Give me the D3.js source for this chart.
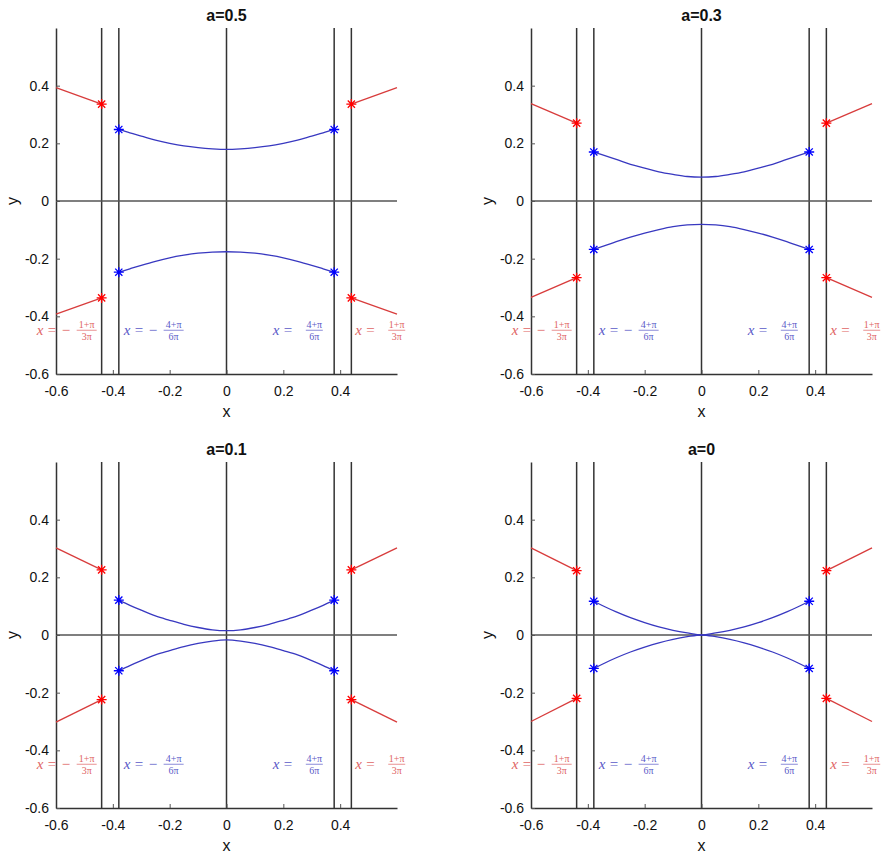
<!DOCTYPE html>
<html>
<head>
<meta charset="utf-8">
<script src="https://cdn.jsdelivr.net/npm/d3@7"></script>
<style>
  body { margin: 0; background: #fff; }
  svg { display: block; }
  text { font-family: "Liberation Sans", Arial, sans-serif; }
</style>
</head>
<body>
<script>
// ---- data ----
var titles = ["a=0.5", "a=0.3", "a=0.1", "a=0"];
var xTicks = [-0.6, -0.4, -0.2, 0, 0.2, 0.4];
var yTicks = [-0.6, -0.4, -0.2, 0, 0.2, 0.4];
var guideX = [-0.4394, -0.3789, 0, 0.3789, 0.4394];

var curveX = [-0.379, -0.34, -0.3, -0.25, -0.2, -0.15, -0.1, -0.05, 0, 0.05, 0.1, 0.15, 0.2, 0.25, 0.3, 0.34, 0.379];

var upper05 = [0.248, 0.236, 0.225, 0.211, 0.200, 0.191, 0.185, 0.181, 0.179, 0.181, 0.185, 0.191, 0.200, 0.211, 0.225, 0.236, 0.248];
var lower05 = [-0.247, -0.235, -0.223, -0.209, -0.197, -0.188, -0.181, -0.177, -0.176, -0.177, -0.181, -0.188, -0.197, -0.209, -0.223, -0.235, -0.247];
var upper03 = [0.170, 0.157, 0.144, 0.127, 0.114, 0.101, 0.092, 0.085, 0.083, 0.085, 0.092, 0.101, 0.114, 0.127, 0.144, 0.157, 0.170];
var lower03 = [-0.168, -0.155, -0.141, -0.125, -0.111, -0.099, -0.089, -0.083, -0.081, -0.083, -0.089, -0.099, -0.111, -0.125, -0.141, -0.155, -0.168];
var upper01 = [0.121, 0.103, 0.086, 0.066, 0.051, 0.037, 0.026, 0.018, 0.015, 0.018, 0.026, 0.037, 0.051, 0.066, 0.086, 0.103, 0.121];
var lower01 = [-0.124, -0.106, -0.089, -0.069, -0.054, -0.040, -0.029, -0.021, -0.017, -0.021, -0.029, -0.040, -0.054, -0.069, -0.089, -0.106, -0.124];
var upper00 = [0.117, 0.098, 0.080, 0.060, 0.043, 0.028, 0.016, 0.007, 0, 0.007, 0.016, 0.028, 0.043, 0.060, 0.080, 0.098, 0.117];
var lower00 = [-0.116, -0.097, -0.079, -0.059, -0.042, -0.027, -0.015, -0.006, 0, -0.006, -0.015, -0.027, -0.042, -0.059, -0.079, -0.097, -0.116];

// red branches: left piece runs x=-0.6 -> -0.4394, right piece x=0.4394 -> 0.6
var redLeftX = [-0.6, -0.4394];
var redRightX = [0.4394, 0.6];
var redUL05 = [0.393, 0.336], redUR05 = [0.336, 0.393], redLL05 = [-0.392, -0.336], redLR05 = [-0.336, -0.392];
var redUL03 = [0.338, 0.270], redUR03 = [0.270, 0.338], redLL03 = [-0.334, -0.266], redLR03 = [-0.266, -0.334];
var redUL01 = [0.302, 0.226], redUR01 = [0.226, 0.302], redLL01 = [-0.302, -0.224], redLR01 = [-0.224, -0.302];
var redUL00 = [0.302, 0.223], redUR00 = [0.223, 0.302], redLL00 = [-0.300, -0.220], redLR00 = [-0.220, -0.300];

// annotation labels (data coords of their left edge)
var labelX = [-0.668, -0.362, 0.163, 0.453];
var labelY = -0.45;
var labelSign = ["\u2212", "\u2212", "", ""];
var labelNum = ["1+\u03c0", "4+\u03c0", "4+\u03c0", "1+\u03c0"];
var labelDen = ["3\u03c0", "6\u03c0", "6\u03c0", "3\u03c0"];
var labelColor = ["#e06464", "#5a5ac8", "#5a5ac8", "#e06464"];

var panels = [
  {title: titles[0], up: upper05, lo: lower05, red: [redUL05, redUR05, redLL05, redLR05]},
  {title: titles[1], up: upper03, lo: lower03, red: [redUL03, redUR03, redLL03, redLR03]},
  {title: titles[2], up: upper01, lo: lower01, red: [redUL01, redUR01, redLL01, redLR01]},
  {title: titles[3], up: upper00, lo: lower00, red: [redUL00, redUR00, redLL00, redLR00]}
];

var W = 883, H = 859;
var pw = 341, ph = 346;
var lefts = [56, 531], tops = [28, 462];

var svg = d3.select("body").append("svg")
  .attr("width", W).attr("height", H);
svg.append("rect").attr("width", W).attr("height", H).attr("fill", "#fff");

var starPath = "M-5,0H5M0,-5V5M-3.6,-3.6L3.6,3.6M-3.6,3.6L3.6,-3.6";
var serif = "'Liberation Serif', 'DejaVu Serif', serif";

function drawLabel(g, px, py, i) {
  var lg = g.append("g").attr("transform", "translate(" + px + "," + py + ")")
    .attr("fill", labelColor[i]).attr("stroke", "none");
  lg.append("text").attr("x", 0).attr("y", 4)
    .style("font-family", serif).style("font-style", "italic").style("font-size", "15px").text("x");
  lg.append("text").attr("x", 11).attr("y", 4)
    .style("font-family", serif).style("font-size", "15px").text("=");
  var fx = 33, fw = 17;
  if (labelSign[i]) {
    lg.append("text").attr("x", 25).attr("y", 4)
      .style("font-family", serif).style("font-size", "15px").text(labelSign[i]);
    fx = 40; fw = 20;
  }
  lg.append("text").attr("x", fx + fw / 2).attr("y", -3).attr("text-anchor", "middle")
    .style("font-family", serif).style("font-size", "10px").text(labelNum[i]);
  lg.append("line").attr("x1", fx).attr("x2", fx + fw).attr("y1", -0.5).attr("y2", -0.5)
    .attr("stroke", labelColor[i]).attr("stroke-width", 0.7);
  lg.append("text").attr("x", fx + fw / 2).attr("y", 9).attr("text-anchor", "middle")
    .style("font-family", serif).style("font-size", "10px").text(labelDen[i]);
}

panels.forEach(function (p, i) {
  var g = svg.append("g")
    .attr("transform", "translate(" + lefts[i % 2] + "," + tops[Math.floor(i / 2)] + ")");

  var x = d3.scaleLinear().domain([-0.6, 0.6]).range([0, pw]);
  var y = d3.scaleLinear().domain([-0.6, 0.6]).range([ph, 0]);

  // vertical guide lines
  g.selectAll("line.guide").data(guideX).join("line")
    .attr("class", "guide")
    .attr("x1", function (d) { return x(d); }).attr("x2", function (d) { return x(d); })
    .attr("y1", y(0.6)).attr("y2", y(-0.6))
    .attr("stroke", "#333").attr("stroke-width", 1.5);

  // y = 0 line
  g.append("line")
    .attr("x1", x(-0.6)).attr("x2", x(0.6)).attr("y1", y(0)).attr("y2", y(0))
    .attr("stroke", "#555").attr("stroke-width", 1.5);

  // axes
  var xAxis = d3.axisBottom(x).tickValues(xTicks).tickSize(-4).tickSizeOuter(0)
    .tickPadding(12).tickFormat(function (d) { return String(d); });
  var yAxis = d3.axisLeft(y).tickValues(yTicks).tickSize(-4).tickSizeOuter(0)
    .tickPadding(7).tickFormat(function (d) { return String(d); });

  var gx = g.append("g").attr("transform", "translate(0," + ph + ")").call(xAxis);
  var gy = g.append("g").call(yAxis);
  [gx, gy].forEach(function (a) {
    a.select(".domain").attr("stroke", "#333").attr("stroke-width", 1.5);
    a.selectAll(".tick line").attr("stroke", "#555");
    a.selectAll(".tick text").attr("fill", "#111")
      .style("font-size", "14px").style("font-family", "'Liberation Sans', Arial, sans-serif");
  });

  // title and axis labels
  g.append("text").attr("x", pw / 2).attr("y", -7).attr("text-anchor", "middle")
    .style("font-size", "16px").style("font-weight", "bold").attr("fill", "#111")
    .text(p.title);
  g.append("text").attr("x", x(0)).attr("y", ph + 43).attr("text-anchor", "middle")
    .style("font-size", "16px").attr("fill", "#111").text("x");
  g.append("text").attr("transform", "translate(-38," + y(0) + ") rotate(-90)")
    .attr("text-anchor", "middle").style("font-size", "16px").attr("fill", "#111").text("y");

  // blue curves
  var line = d3.line()
    .x(function (d) { return x(d[0]); })
    .y(function (d) { return y(d[1]); })
    .curve(d3.curveMonotoneX);
  [p.up, p.lo].forEach(function (ys) {
    g.append("path")
      .attr("d", line(d3.zip(curveX, ys)))
      .attr("fill", "none").attr("stroke", "#3838c0").attr("stroke-width", 1.3);
  });

  // red branches
  var redSets = [
    [redLeftX, p.red[0]], [redRightX, p.red[1]],
    [redLeftX, p.red[2]], [redRightX, p.red[3]]
  ];
  redSets.forEach(function (s) {
    g.append("path")
      .attr("d", d3.line().x(function (d) { return x(d[0]); }).y(function (d) { return y(d[1]); })(d3.zip(s[0], s[1])))
      .attr("fill", "none").attr("stroke", "#d83c3c").attr("stroke-width", 1.3);
  });

  // star markers
  var n = curveX.length - 1;
  var blueStars = [
    [curveX[0], p.up[0]], [curveX[n], p.up[n]],
    [curveX[0], p.lo[0]], [curveX[n], p.lo[n]]
  ];
  var redStars = [
    [redLeftX[1], p.red[0][1]], [redRightX[0], p.red[1][0]],
    [redLeftX[1], p.red[2][1]], [redRightX[0], p.red[3][0]]
  ];
  g.selectAll("path.bstar").data(blueStars).join("path")
    .attr("class", "bstar").attr("d", starPath)
    .attr("transform", function (d) { return "translate(" + x(d[0]) + "," + y(d[1]) + ")"; })
    .attr("stroke", "#0000ff").attr("stroke-width", 1.3).attr("fill", "none");
  g.selectAll("path.rstar").data(redStars).join("path")
    .attr("class", "rstar").attr("d", starPath)
    .attr("transform", function (d) { return "translate(" + x(d[0]) + "," + y(d[1]) + ")"; })
    .attr("stroke", "#ff0000").attr("stroke-width", 1.3).attr("fill", "none");

  // annotations
  labelX.forEach(function (lx, k) {
    drawLabel(g, x(lx), y(labelY), k);
  });
});
</script>
</body>
</html>
